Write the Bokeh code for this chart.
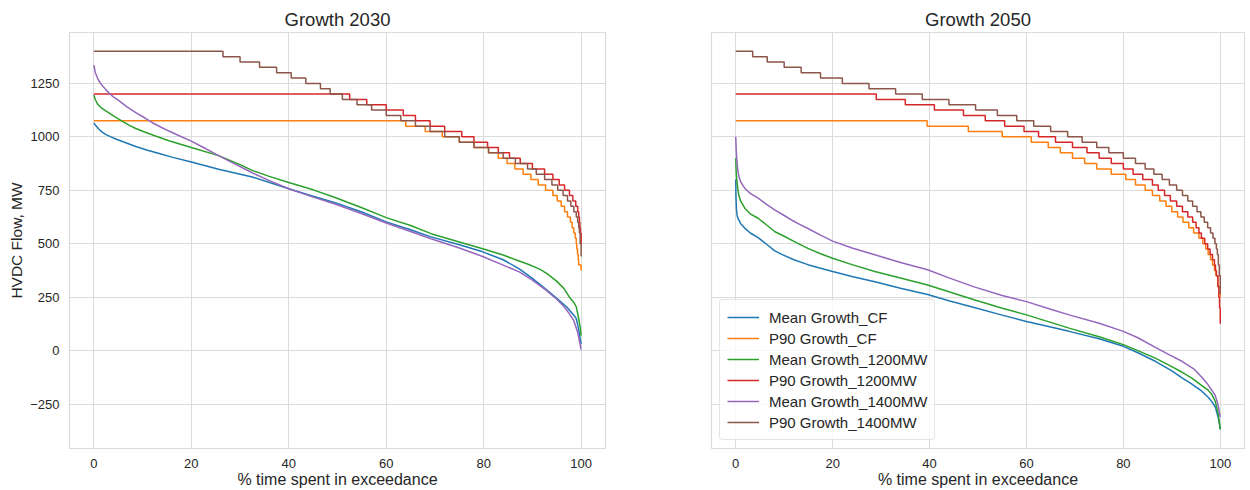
from bokeh.plotting import figure
from bokeh.layouts import row
from bokeh.models import Range1d, FixedTicker, Legend
from bokeh.embed import file_html
from bokeh.resources import INLINE

# ---------------- data ----------------
# Growth 2030
mean_cf_2030_x = [0, 0.3, 0.7, 1.2, 1.7, 2.5, 3.5, 4.5, 6, 8.6, 11, 13.4, 16, 20, 25.6, 32.5, 40, 45, 49.5, 55, 60,
                  65, 69.2, 75, 79.8, 84, 87.3, 90, 92.8, 95, 97, 98.5, 99, 99.4, 99.7, 100]
mean_cf_2030_y = [1065, 1055, 1045, 1032, 1022, 1010, 1000, 990, 977, 955, 937, 922, 905, 882, 848, 812, 757, 722,
                  692, 648, 602, 565, 532, 495, 462, 425, 382, 338, 287, 245, 205, 165, 150, 110, 70, 30]

p90_cf_2030_x = [0, 62, 64, 68, 71.5, 75, 78, 81, 83, 84.8, 86.4, 88.1, 89.7, 91.2, 92.7, 94.2, 95.1, 95.9, 96.6,
                 97.2, 97.8, 98.15, 98.5, 98.8, 99.0, 99.1, 99.26, 99.4, 99.5, 100]
p90_cf_2030_y = [1075, 1075, 1050, 1025, 1000, 975, 950, 925, 900, 875, 850, 825, 800, 775, 750, 725, 700, 675, 650,
                 625, 600, 575, 550, 525, 500, 475, 450, 425, 400, 375]

mean_1200_2030_x = [0, 0.2, 0.4, 0.8, 1.4, 2.2, 3.1, 4, 5.2, 6.2, 7.2, 8.5, 10, 12.5, 15.4, 20, 25.6, 30, 32.5, 36,
                    40, 45, 49.5, 55, 60, 65, 69.2, 75, 79.8, 84, 86, 89, 91.5, 93, 94.9, 96.5, 97.6, 98.5, 99,
                    99.5, 99.8, 100]
mean_1200_2030_y = [1195, 1180, 1170, 1152, 1138, 1125, 1112, 1098, 1082, 1068, 1055, 1040, 1026, 1005, 982, 950,
                    912, 870, 843, 815, 786, 752, 716, 668, 622, 585, 547, 508, 476, 447, 430, 405, 381, 360, 326,
                    290, 250, 225, 205, 150, 110, 70]

p90_1200_2030_x = [0, 52.5, 56, 60, 63.5, 66, 69, 72, 75.5, 78, 80.8, 83, 85.3, 87.5, 90, 92.5, 94.2, 95.5, 96.6,
                   97.6, 98.3, 98.9, 99.3, 99.5, 99.65, 99.75, 99.85, 100]
p90_1200_2030_y = [1200, 1175, 1150, 1125, 1100, 1075, 1050, 1025, 1000, 975, 950, 925, 900, 875, 850, 825, 800, 775,
                   750, 725, 700, 675, 650, 625, 600, 575, 550, 500]

mean_1400_2030_x = [0, 0.3, 0.75, 1.2, 1.8, 2.4, 3.1, 4, 5.2, 6.8, 8.6, 10.5, 12, 13.7, 15.4, 17.5, 20, 22.5, 25.6,
                    29, 32.5, 36, 40, 45, 49.5, 55, 60, 65, 69.2, 75, 79.8, 84, 87.3, 90, 92.8, 95, 96.5, 97.6,
                    98.5, 99.3, 100]
mean_1400_2030_y = [1335, 1300, 1275, 1255, 1238, 1222, 1205, 1187, 1168, 1140, 1113, 1088, 1066, 1046, 1027, 1005,
                    980, 950, 912, 872, 832, 795, 757, 718, 686, 640, 597, 557, 523, 480, 440, 400, 368, 330, 283,
                    240, 205, 172, 140, 85, 5]

p90_1400_2030_x = [0, 26.5, 30, 34, 37.5, 40.5, 43.5, 46.5, 48.5, 51, 54, 57, 60, 63, 66, 69, 72, 75, 78, 81, 84,
                   86.5, 89, 90.8, 92.5, 94, 95.2, 96.3, 97.2, 97.9, 98.5, 99.0, 99.3, 99.5, 99.65, 99.8, 100]
p90_1400_2030_y = [1400, 1375, 1350, 1325, 1300, 1275, 1250, 1225, 1200, 1175, 1150, 1125, 1100, 1075, 1050, 1025,
                   1000, 975, 950, 925, 900, 875, 850, 825, 800, 775, 750, 725, 700, 675, 650, 625, 600, 575, 550,
                   500, 440]

# Growth 2050
mean_cf_2050_x = [0, 0.05, 0.15, 0.3, 0.55, 1, 1.9, 3, 4.7, 6.5, 8, 9.5, 12, 14.9, 17.5, 20, 24, 28.7, 34, 39.6,
                  44, 49.2, 55, 60, 65, 68.8, 75, 80, 83, 86.6, 90, 92.1, 94, 96.2, 97.5, 98.3, 99, 99.6, 100]
mean_cf_2050_y = [800, 720, 660, 630, 615, 595, 572, 550, 527, 495, 468, 450, 425, 402, 385, 370, 347, 322, 292,
                  262, 233, 202, 166, 136, 110, 90, 55, 20, -10, -50, -95, -128, -155, -190, -218, -240, -265,
                  -315, -365]

p90_cf_2050_x = [0, 39.5, 48, 55, 61, 64.5, 67, 69.5, 72, 74.5, 77.5, 80.5, 82.5, 84.5, 86, 87.5, 88.8, 90, 91.2,
                 92.3, 93.5, 94.5, 95.6, 96.4, 97.0, 97.5, 98.0, 98.4, 98.8, 99.1, 99.5, 100]
p90_cf_2050_y = [1075, 1050, 1025, 1000, 975, 950, 925, 900, 875, 850, 825, 800, 775, 750, 725, 700, 675, 650, 625,
                 600, 575, 550, 525, 500, 475, 450, 425, 400, 375, 350, 300, 250]

mean_1200_2050_x = [0, 0.1, 0.3, 0.6, 1, 1.9, 3, 4.7, 6.5, 8.1, 10, 12.5, 14.9, 17.5, 20, 24, 28.7, 34, 39.6, 44,
                    49.2, 55, 60, 65, 68.8, 75, 80, 83, 86.6, 90, 92, 94.2, 96, 97.5, 98.3, 99, 99.6, 100]
mean_1200_2050_y = [900, 830, 780, 730, 700, 665, 640, 618, 585, 556, 535, 505, 478, 453, 432, 402, 370, 340, 307,
                    275, 238, 198, 167, 132, 105, 65, 28, 0, -35, -75, -100, -130, -160, -185, -207, -240, -300,
                    -370]

p90_1200_2050_x = [0, 29, 35, 41, 47, 51.5, 55.5, 59.5, 62.5, 66, 69.5, 72.5, 75, 77.5, 80, 82, 84, 86, 87.2, 88.5,
                   89.7, 91, 92.2, 93.3, 94.3, 95.0, 95.6, 96.1, 96.8, 97.4, 97.9, 98.4, 98.8, 99.0, 99.2, 99.5,
                   99.7, 99.85, 100]
p90_1200_2050_y = [1200, 1175, 1150, 1125, 1100, 1075, 1050, 1025, 1000, 975, 950, 925, 900, 875, 850, 825, 800, 775,
                   750, 725, 700, 675, 650, 625, 600, 575, 550, 525, 500, 475, 450, 425, 400, 375, 350, 300, 250,
                   200, 125]

mean_1400_2050_x = [0, 0.1, 0.2, 0.4, 0.6, 1, 1.9, 3, 4.7, 6.3, 8.1, 10, 11.5, 13, 14.9, 17.5, 20, 24, 28.7, 34,
                    39.6, 44, 49.2, 55, 60, 65, 68.8, 75, 80, 83, 86.6, 89.5, 92.1, 94.5, 96.2, 97.5, 98.9, 99.5, 100]
mean_1400_2050_y = [1000, 940, 900, 850, 820, 790, 758, 735, 712, 685, 657, 632, 611, 593, 571, 540, 512, 480, 448,
                    412, 378, 340, 298, 258, 229, 193, 167, 128, 90, 60, 15, -20, -50, -85, -125, -160, -207, -250,
                    -310]

p90_1400_2050_x = [0, 3.5, 6.5, 10, 13.5, 17.5, 22, 27.5, 33, 38.5, 44, 49.5, 54, 58, 61.5, 65, 68.5, 71.5, 74.5,
                   77, 80, 82.5, 84.5, 86.3, 88, 89.5, 91, 92.2, 93.3, 94.3, 95.2, 96, 96.7, 97.4, 98, 98.5, 98.9,
                   99.2, 99.4, 99.6, 99.8, 100]
p90_1400_2050_y = [1400, 1375, 1350, 1325, 1300, 1275, 1250, 1225, 1200, 1175, 1150, 1125, 1100, 1075, 1050, 1025,
                   1000, 975, 950, 925, 900, 875, 850, 825, 800, 775, 750, 725, 700, 675, 650, 625, 600, 575, 550,
                   525, 500, 475, 450, 400, 350, 265]

series_names = ["Mean Growth_CF", "P90 Growth_CF", "Mean Growth_1200MW", "P90 Growth_1200MW",
                "Mean Growth_1400MW", "P90 Growth_1400MW"]
x_ticks = [0, 20, 40, 60, 80, 100]
y_ticks = [-250, 0, 250, 500, 750, 1000, 1250]
y_tick_labels = ["\u2212250", "0", "250", "500", "750", "1000", "1250"]

# ---------------- styling ----------------
COLORS = ["#1f77b4", "#ff7f0e", "#2ca02c", "#d62728", "#9467bd", "#8c564b"]
FONT = "Liberation Sans"
TXT = "#262626"
GRID = "#dcdcdc"

y_range = Range1d(-458, 1488)


def make_fig(title, fw, left, right, show_y):
    p = figure(frame_width=fw, frame_height=416, x_range=Range1d(-5, 105), y_range=y_range,
               output_backend="svg", toolbar_location=None,
               min_border_left=left, min_border_right=right, min_border_top=32, min_border_bottom=42)
    p.title.text = title
    p.title.align = "center"
    p.title.text_font = FONT
    p.title.text_font_size = "18.5px"
    p.title.text_font_style = "normal"
    p.title.text_color = TXT
    p.title.standoff = 5
    p.outline_line_color = GRID
    p.outline_line_width = 1.2
    p.background_fill_color = "white"
    p.border_fill_color = "white"
    for ax in (p.xaxis[0], p.yaxis[0]):
        ax.axis_line_color = None
        ax.major_tick_line_color = None
        ax.minor_tick_line_color = None
        ax.major_label_text_font = FONT
        ax.major_label_text_font_size = "13px"
        ax.major_label_text_color = TXT
        ax.axis_label_text_font = FONT
        ax.axis_label_text_font_style = "normal"
        ax.axis_label_text_color = TXT
        ax.major_label_standoff = 4
    p.xaxis.axis_label_text_font_size = "16px"
    p.yaxis.axis_label_text_font_size = "15.5px"
    p.xaxis.ticker = FixedTicker(ticks=x_ticks)
    p.yaxis.ticker = FixedTicker(ticks=y_ticks)
    p.xgrid.ticker = FixedTicker(ticks=x_ticks)
    p.ygrid.ticker = FixedTicker(ticks=y_ticks)
    p.yaxis.major_label_overrides = {t: l for t, l in zip(y_ticks, y_tick_labels)}
    p.xaxis.axis_label = "% time spent in exceedance"
    p.xaxis.axis_label_standoff = 0
    p.xgrid.grid_line_color = GRID
    p.ygrid.grid_line_color = GRID
    p.xgrid.grid_line_width = 1
    p.ygrid.grid_line_width = 1
    if show_y:
        p.yaxis.axis_label = "HVDC Flow, MW"
        p.yaxis.axis_label_standoff = 2
    else:
        p.yaxis.visible = False
    return p


p1 = make_fig("Growth 2030", 536, 69, 35, True)
p2 = make_fig("Growth 2050", 533, 71, 6, False)

data_2030 = [(mean_cf_2030_x, mean_cf_2030_y), (p90_cf_2030_x, p90_cf_2030_y),
             (mean_1200_2030_x, mean_1200_2030_y), (p90_1200_2030_x, p90_1200_2030_y),
             (mean_1400_2030_x, mean_1400_2030_y), (p90_1400_2030_x, p90_1400_2030_y)]
data_2050 = [(mean_cf_2050_x, mean_cf_2050_y), (p90_cf_2050_x, p90_cf_2050_y),
             (mean_1200_2050_x, mean_1200_2050_y), (p90_1200_2050_x, p90_1200_2050_y),
             (mean_1400_2050_x, mean_1400_2050_y), (p90_1400_2050_x, p90_1400_2050_y)]

for i, (xs, ys) in enumerate(data_2030):
    if i % 2 == 0:
        p1.line(xs, ys, line_color=COLORS[i], line_width=1.5)
    else:
        p1.step(xs, ys, mode="after", line_color=COLORS[i], line_width=1.5)

items = []
for i, (xs, ys) in enumerate(data_2050):
    if i % 2 == 0:
        r = p2.line(xs, ys, line_color=COLORS[i], line_width=1.5)
    else:
        r = p2.step(xs, ys, mode="after", line_color=COLORS[i], line_width=1.5)
    items.append((series_names[i], [r]))

legend = Legend(items=items, location="bottom_left")
legend.margin = 8
legend.padding = 7
legend.spacing = 1
legend.glyph_width = 32
legend.glyph_height = 20
legend.label_height = 20
legend.label_standoff = 10
legend.label_text_font = FONT
legend.label_text_font_size = "15px"
legend.label_text_color = TXT
legend.border_line_color = "#cccccc"
legend.border_line_width = 1
legend.border_radius = 4
legend.background_fill_alpha = 0.8
p2.add_layout(legend, "center")

layout = row(p1, p2)
open("out.html", "w").write(file_html(layout, INLINE))
